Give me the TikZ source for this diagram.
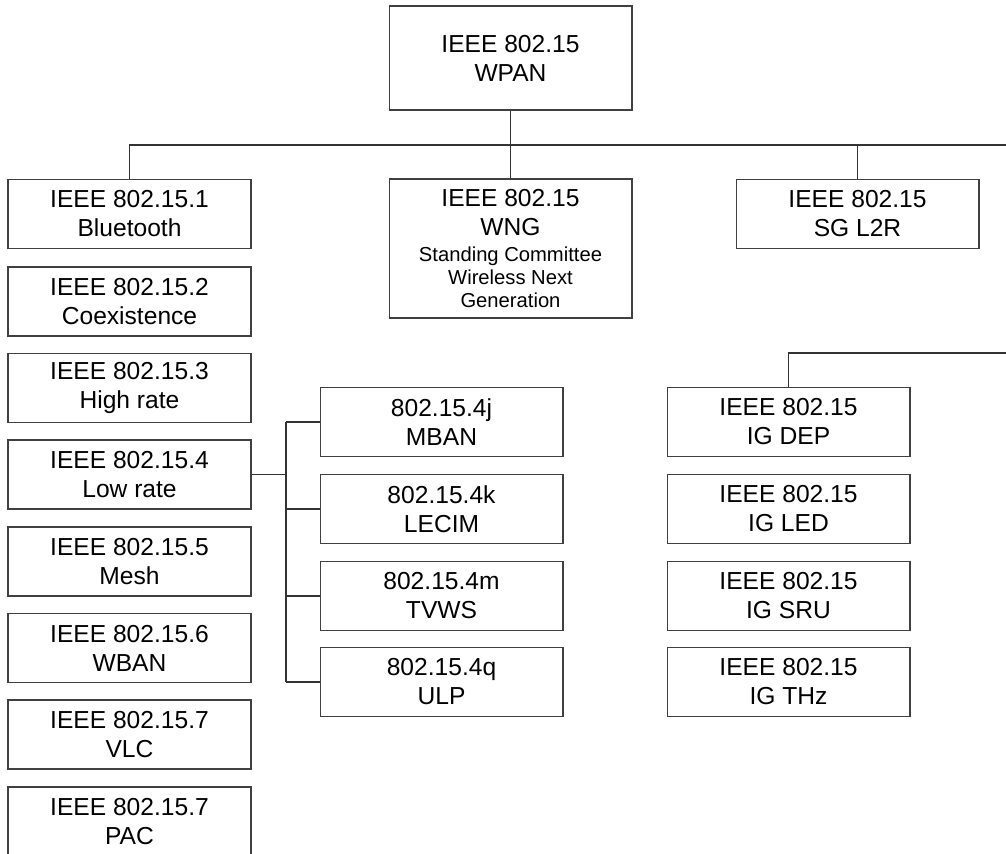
\documentclass[tikz,border=0pt]{standalone}
\usepackage{fontspec}
\setmainfont{Liberation Sans}
\newcommand\wngsmall[1]{{\fontsize{11.5}{13.5}\selectfont #1}}
\tikzset{
  unit/.style={draw=black!75, line width=0.6pt, minimum width=4.86cm,
    minimum height=1.38cm, inner sep=0pt, align=center,
    font=\fontsize{14}{16.5}\selectfont},
  link/.style={draw=black!80, line width=0.6pt}
}

\begin{document}
\begin{tikzpicture}[x=0.02cm, y=-0.02cm]
  \clip (0,0) rectangle (1006,854);

  % Top node
  \node[unit, minimum height=2.08cm] (wpan) at (510.5,58) {IEEE 802.15\\WPAN};

  % Second row
  \node[unit] (bt) at (129.5,214) {IEEE 802.15.1\\Bluetooth};
  \node[unit, minimum height=2.78cm] (wng) at (510.5,248.5)
    {IEEE 802.15\\WNG\\[-2pt]\wngsmall{Standing Committee}\\[-3.5pt]
     \wngsmall{Wireless Next}\\[-3.5pt]\wngsmall{Generation}};
  \node[unit] (l2r) at (857.5,214) {IEEE 802.15\\SG L2R};

  % Left column
  \node[unit] (coex) at (129.5,301.5) {IEEE 802.15.2\\Coexistence};
  \node[unit] (high) at (129.5,388)   {IEEE 802.15.3\\High rate};
  \node[unit] (low)  at (129.5,474.5) {IEEE 802.15.4\\Low rate};
  \node[unit] (mesh) at (129.5,561.5) {IEEE 802.15.5\\Mesh};
  \node[unit] (wban) at (129.5,648)   {IEEE 802.15.6\\WBAN};
  \node[unit] (vlc)  at (129.5,734.5) {IEEE 802.15.7\\VLC};
  \node[unit] (pac)  at (129.5,821.5) {IEEE 802.15.7\\PAC};

  % Low rate amendments
  \node[unit] (mban)  at (441.5,422) {802.15.4j\\MBAN};
  \node[unit] (lecim) at (441.5,509) {802.15.4k\\LECIM};
  \node[unit] (tvws)  at (441.5,596) {802.15.4m\\TVWS};
  \node[unit] (ulp)   at (441.5,682) {802.15.4q\\ULP};

  % Interest groups
  \node[unit] (dep) at (788.5,422) {IEEE 802.15\\IG DEP};
  \node[unit] (led) at (788.5,509) {IEEE 802.15\\IG LED};
  \node[unit] (sru) at (788.5,596) {IEEE 802.15\\IG SRU};
  \node[unit] (thz) at (788.5,682) {IEEE 802.15\\IG THz};

  % Free ends
  \coordinate (busend) at (1006,145);
  \coordinate (igend)  at (1006,353);
  \coordinate (trunk)  at (286,474.5);

  % Connections
  \draw[link] (wpan.south) -- (wng.north);
  \draw[link] (bt.north) |- (busend);
  \draw[link] (l2r.north) -- (l2r.north |- busend);
  \draw[link] (low.east) -- (trunk);
  \draw[link] (trunk |- mban.west) -- (trunk |- ulp.west);
  \foreach \s in {mban,lecim,tvws,ulp}
    \draw[link] (trunk |- \s.west) -- (\s.west);
  \draw[link] (dep.north) |- (igend);
\end{tikzpicture}
\end{document}
